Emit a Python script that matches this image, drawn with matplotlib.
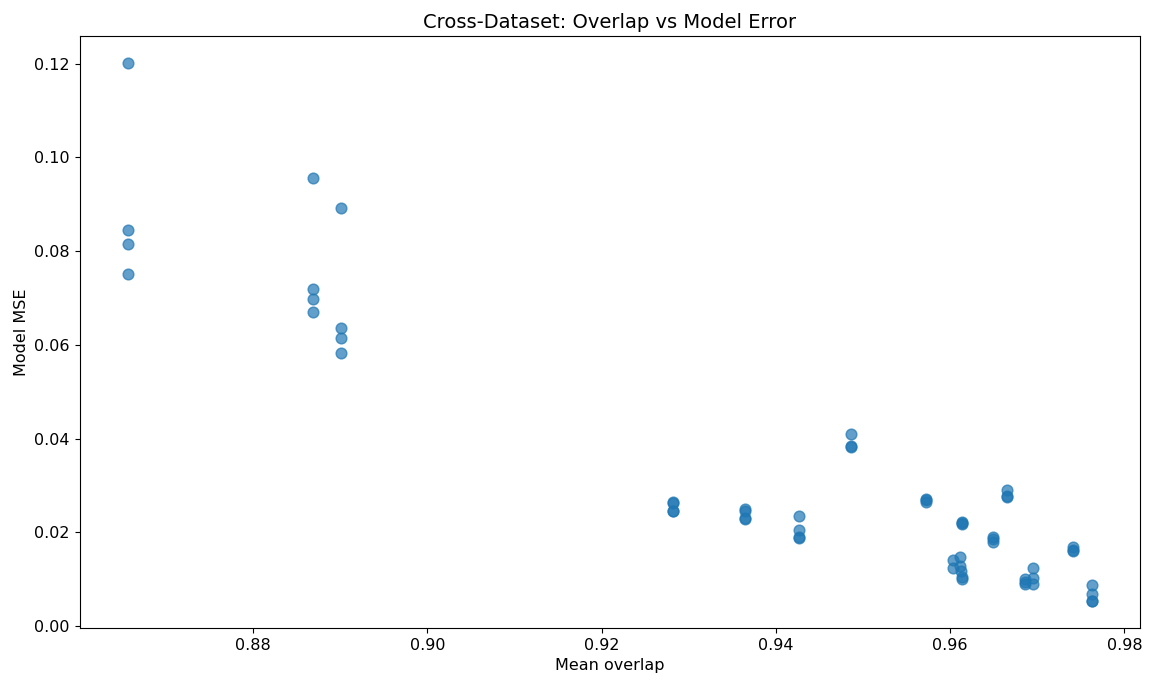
import matplotlib
matplotlib.use("Agg")
import matplotlib.pyplot as plt

# mean overlap per run and the model error (MSE)
overlap = [
    0.8656, 0.8656, 0.8656, 0.8656,
    0.8869, 0.8869, 0.8869, 0.8869,
    0.8901, 0.8901, 0.8901, 0.8901,
    0.9282, 0.9282, 0.9282, 0.9282,
    0.9364, 0.9364, 0.9364, 0.9364,
    0.9426, 0.9426, 0.9426, 0.9426,
    0.9486, 0.9486, 0.9486,
    0.9572, 0.9572, 0.9572,
    0.9614, 0.9614, 0.9614,
    0.9665, 0.9665, 0.9665,
    0.9649, 0.9649, 0.9649,
    0.9741, 0.9741, 0.9741,
    0.9603, 0.9603, 0.9611, 0.9611, 0.9613, 0.9614, 0.9614,
    0.9686, 0.9686, 0.9686, 0.9695, 0.9695, 0.9695,
    0.9763, 0.9763, 0.9763, 0.9763,
]
mse = [
    0.1201, 0.0845, 0.0815, 0.0751,
    0.0955, 0.0719, 0.0697, 0.0670,
    0.0891, 0.0635, 0.0614, 0.0582,
    0.0265, 0.0262, 0.0246, 0.0245,
    0.0249, 0.0246, 0.0231, 0.0229,
    0.0235, 0.0204, 0.0189, 0.0187,
    0.0409, 0.0384, 0.0382,
    0.0271, 0.0268, 0.0265,
    0.0222, 0.0219, 0.0217,
    0.0291, 0.0278, 0.0276,
    0.0189, 0.0185, 0.0180,
    0.0168, 0.0163, 0.0160,
    0.0140, 0.0123, 0.0147, 0.0128, 0.0117, 0.0100, 0.0105,
    0.0100, 0.0089, 0.0095, 0.0124, 0.0102, 0.0089,
    0.0087, 0.0069, 0.0053, 0.0054,
]

plt.rcParams['font.size'] = 11.5

fig = plt.figure(figsize=(11.53, 6.82), dpi=100)
ax = fig.add_axes([0.069, 0.079, 0.920, 0.868])

ax.scatter(overlap, mse, s=60, alpha=0.7, color='C0')

ax.set_title('Cross-Dataset: Overlap vs Model Error', fontsize=14)
ax.set_xlabel('Mean overlap')
ax.set_ylabel('Model MSE')

fig.savefig('out.png', dpi=100)
